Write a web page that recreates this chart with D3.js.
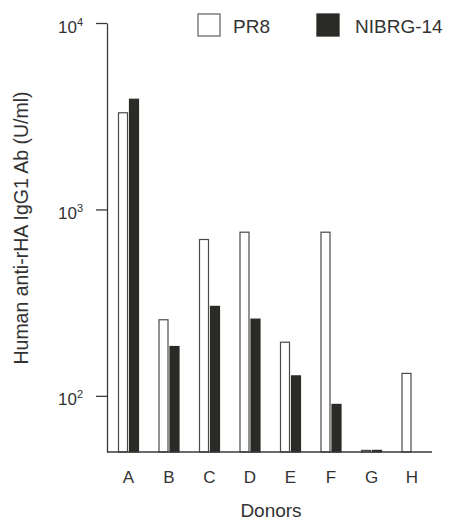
<!DOCTYPE html>
<html>
<head>
<meta charset="utf-8">
<script src="https://cdn.jsdelivr.net/npm/d3@7"></script>
<style>
  body { margin: 0; background: #fff; }
  text { font-family: "Liberation Sans", Arial, sans-serif; fill: #333; }
</style>
</head>
<body>
<svg id="chart" width="451" height="522"></svg>
<script>
// donors and antibody titres (U/ml); 50 = baseline (not detected)
const donors = ["A", "B", "C", "D", "E", "F", "G", "H"];
const series = ["PR8", "NIBRG-14"];
const pr8 = [3300, 256, 690, 755, 194, 755, 51, 132];
const nibrg = [3900, 184, 302, 258, 128, 90, 51, 50];
const yTicks = [100, 1000, 10000];

const colours = {"PR8": "#ffffff", "NIBRG-14": "#2a2b27"};
const ink = "#3a3a3a";

const svg = d3.select("#chart");

const x = d3.scaleBand()
    .domain(donors)
    .range([108.25, 432.25]);

const xs = d3.scaleBand()
    .domain(series)
    .range([9.75, 30.75])
    .paddingInner(1 / 11);

const y = d3.scaleLog()
    .domain([50, 10000])
    .range([452, 23]);

const rows = donors.map((d, i) => ({donor: d, values: [
    {key: "PR8", value: pr8[i]},
    {key: "NIBRG-14", value: nibrg[i]}
]}));

// bars
const groups = svg.append("g").selectAll("g")
    .data(rows)
    .enter().append("g")
    .attr("transform", (d) => `translate(${x(d.donor)},0)`);

groups.selectAll("rect")
    .data((d) => d.values)
    .enter().append("rect")
    .attr("x", (d) => xs(d.key) + 0.5)
    .attr("width", xs.bandwidth() - 1)
    .attr("y", (d) => y(d.value))
    .attr("height", (d) => y(50) - y(d.value))
    .style("fill", (d) => colours[d.key])
    .style("stroke", (d) => d.key === "PR8" ? "#4a4a4a" : colours[d.key])
    .style("stroke-width", 1.2);

// y axis
const yAxis = svg.append("g")
    .attr("transform", "translate(107,0)")
    .call(d3.axisLeft(y)
        .tickValues(yTicks)
        .tickSizeInner(11)
        .tickSizeOuter(0)
        .tickPadding(13)
        .tickFormat(() => "10"));

yAxis.select(".domain").attr("stroke", ink).attr("stroke-width", 1.3);
yAxis.selectAll(".tick line").attr("stroke", ink).attr("stroke-width", 1.3);
yAxis.selectAll(".tick text")
    .attr("x", -24)
    .attr("dy", 9)
    .style("font-size", "17px")
    .append("tspan")
    .attr("dy", -7)
    .style("font-size", "11px")
    .text((d) => Math.round(Math.log10(d)));

// x axis
const xAxis = svg.append("g")
    .attr("transform", `translate(0,${y(50)})`)
    .call(d3.axisBottom(x).tickSize(0).tickPadding(20));

xAxis.select(".domain")
    .attr("d", "M107,0H432")
    .attr("stroke", ink)
    .attr("stroke-width", 1.3);
xAxis.selectAll(".tick text")
    .attr("dy", 0)
    .attr("y", 31)
    .style("font-size", "17px");

// axis titles
svg.append("text")
    .attr("x", 271)
    .attr("y", 517)
    .attr("text-anchor", "middle")
    .style("font-size", "19px")
    .text("Donors");

svg.append("text")
    .attr("transform", "translate(28,228) rotate(-90)")
    .attr("text-anchor", "middle")
    .style("font-size", "19.5px")
    .text("Human anti-rHA IgG1 Ab (U/ml)");

// legend
const legendX = [198, 317];
const legend = svg.append("g").selectAll("g")
    .data(series)
    .enter().append("g")
    .attr("transform", (d, i) => `translate(${legendX[i]},14)`);

legend.append("rect")
    .attr("width", 22)
    .attr("height", 22)
    .style("fill", (d) => colours[d])
    .style("stroke", (d) => d === "PR8" ? "#6a6a6a" : colours[d])
    .style("stroke-width", 1.3);

legend.append("text")
    .attr("x", (d, i) => i === 0 ? 35 : 38)
    .attr("y", 19)
    .style("font-size", "19px")
    .text((d) => d);
</script>
</body>
</html>
